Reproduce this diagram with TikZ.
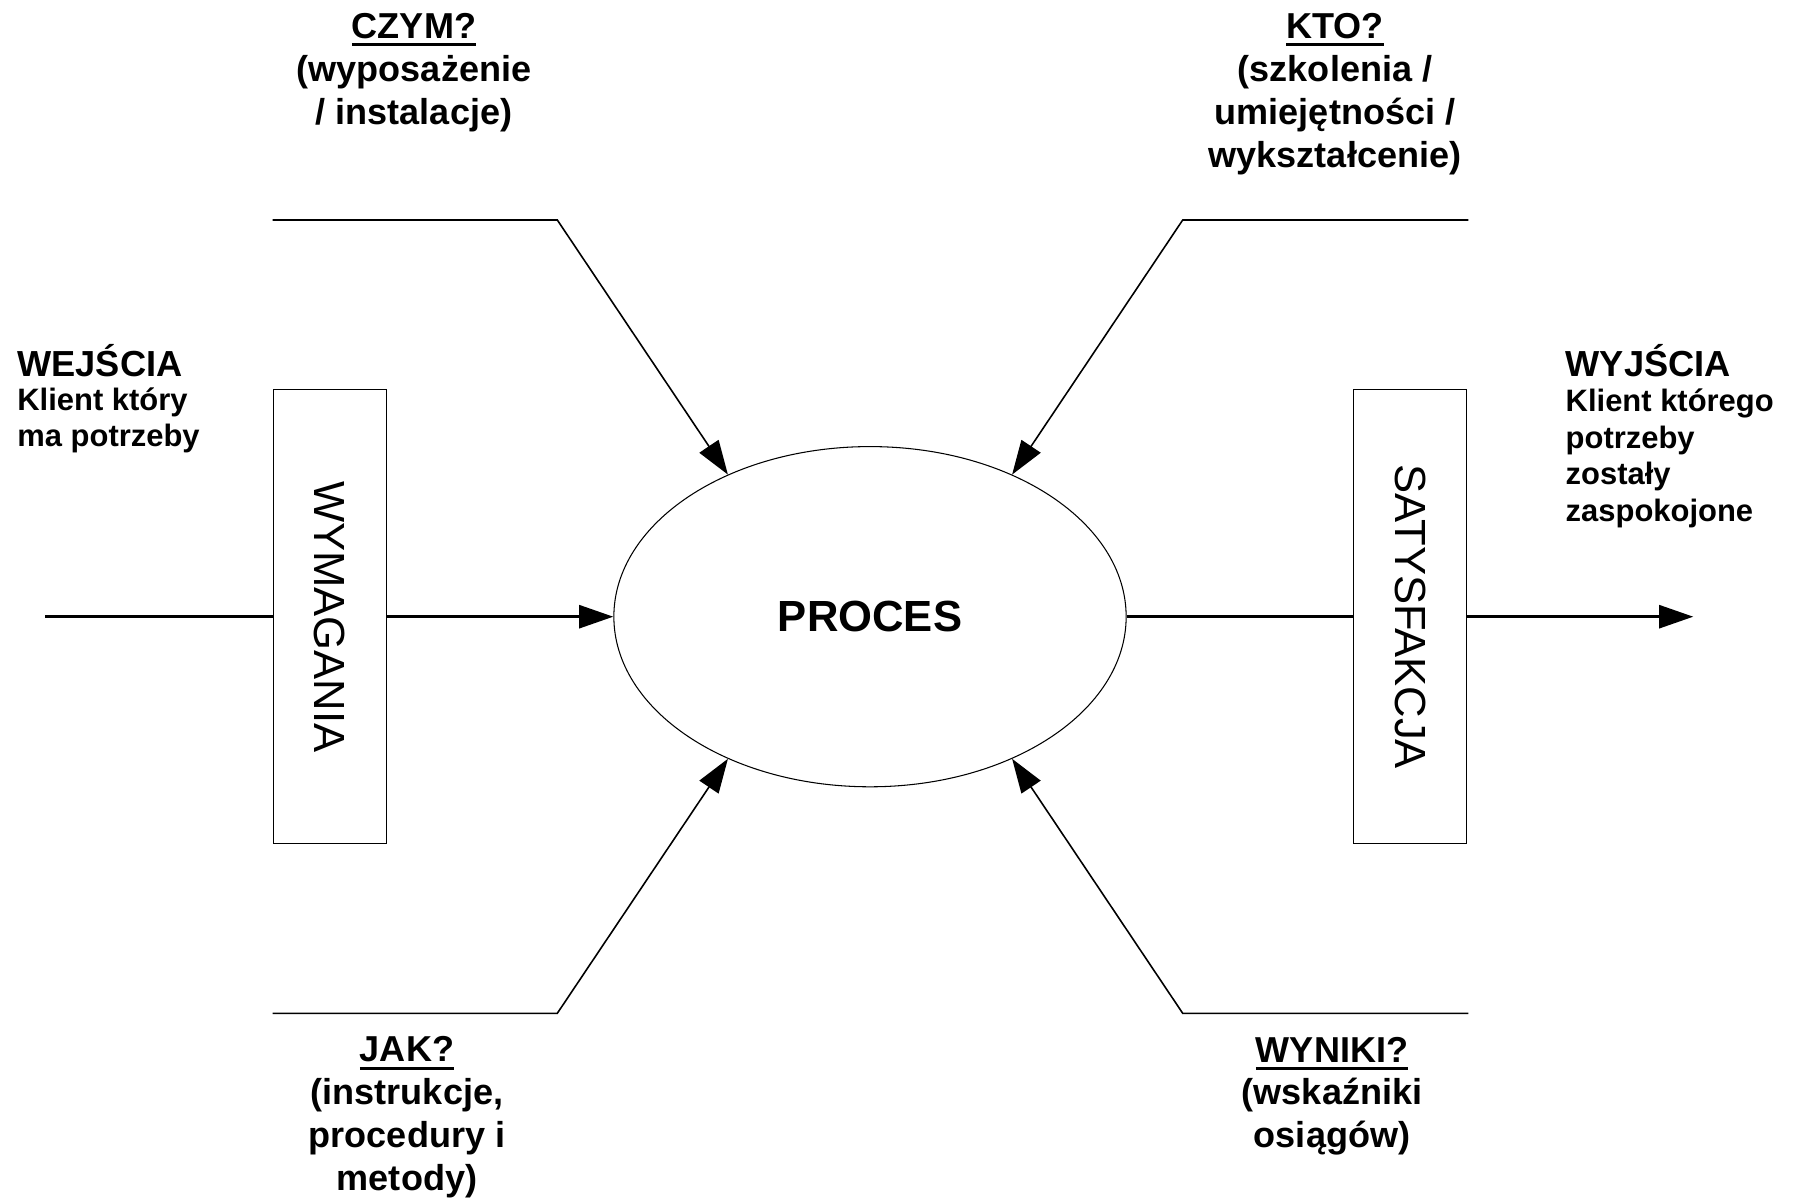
\documentclass[tikz,border=0pt]{standalone}
\usepackage{graphicx}
\usepackage{fontspec}
\setmainfont{Liberation Sans}
\usetikzlibrary{arrows.meta, shapes.geometric}
\newcommand{\podkresl}[1]{\setbox0\hbox{#1}\rlap{\rule[-2.2pt]{\wd0}{0.85pt}}\box0}
\tikzset{
    napis/.style = {font=\bfseries\fontsize{10.25pt}{12.2pt}\selectfont, align=center, inner sep=0pt, anchor=base},
    tytul/.style = {font=\bfseries\fontsize{10.3pt}{12pt}\selectfont, inner sep=0pt, anchor=base west},
    opis/.style = {font=\bfseries\fontsize{8.8pt}{10.4pt}\selectfont, align=left, inner sep=0pt, anchor=base west},
    ramka/.style = {draw, line width=0.3pt, minimum width=11.34mm, minimum height=45.4mm, inner sep=0pt, font=\fontsize{12.4pt}{14pt}\selectfont},
    proces/.style = {draw, ellipse, line width=0.3pt, minimum width=51.2mm, minimum height=34mm, inner sep=0pt, font=\bfseries\fontsize{12.4pt}{15pt}\selectfont},
    gruba/.style = {line width=0.85pt},
    cienka/.style = {line width=0.45pt},
    grot/.style = {-{Triangle[length=9.7pt, width=6.5pt]}}
}
\begin{document}
\begin{tikzpicture}[x=0.01cm, y=-0.01cm]
    \useasboundingbox (0, 0) rectangle (1798, 1201);
    \node [proces] (proc) at (870, 616.7) {PROCES};
    \node [ramka] (wym) at (330, 616.7) {\rotatebox{-90}{WYMAGANIA}};
    \node [ramka] (sat) at (1410, 616.7) {\rotatebox{-90}{SATYSFAKCJA}};
    \coordinate (start) at (45, 616.7);
    \coordinate (koniec) at (1693.3, 616.7);
    \draw [gruba] (start) -- (wym.west);
    \draw [gruba, grot] (wym.east) -- (proc.west);
    \draw [gruba] (proc.east) -- (sat.west);
    \draw [gruba, grot] (sat.east) -- (koniec);
    \coordinate (czym1) at (272.7, 220);
    \coordinate (czym2) at (557.3, 220);
    \coordinate (kto1) at (1468.3, 220);
    \coordinate (kto2) at (1182.7, 220);
    \coordinate (jak1) at (272.7, 1013.3);
    \coordinate (jak2) at (557.3, 1013.3);
    \coordinate (wyn1) at (1468.3, 1013.3);
    \coordinate (wyn2) at (1182.7, 1013.3);
    \draw [cienka, grot] (czym1) -- (czym2) -- (proc.135);
    \draw [cienka, grot] (kto1) -- (kto2) -- (proc.45);
    \draw [cienka, grot] (jak1) -- (jak2) -- (proc.225);
    \draw [cienka, grot] (wyn1) -- (wyn2) -- (proc.315);
    \node [napis] (czym) at (414, 124.3) {\podkresl{CZYM?}\\(wyposażenie\\/ instalacje)};
    \node [napis] (kto) at (1335, 167.1) {\podkresl{KTO?}\\(szkolenia /\\umiejętności /\\wykształcenie)};
    \node [napis] (jak) at (407, 1190.6) {\podkresl{JAK?}\\(instrukcje,\\procedury i\\metody)};
    \node [napis] (wyniki) at (1332, 1147.8) {\podkresl{WYNIKI?}\\(wskaźniki\\osiągów)};
    \node [tytul] (wej) at (16.7, 376.7) {WEJŚCIA};
    \node [opis] (wejopis) at (16.7, 446.6) {Klient który\\ma potrzeby};
    \node [tytul] (wyj) at (1565, 376.7) {WYJŚCIA};
    \node [opis] (wyjopis) at (1565, 521.3) {Klient którego\\potrzeby\\zostały\\zaspokojone};
\end{tikzpicture}
\end{document}
